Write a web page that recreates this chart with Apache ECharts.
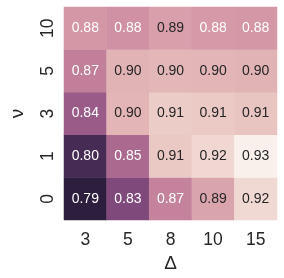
<!DOCTYPE html>
<html>
<head>
<meta charset="utf-8">
<script src="https://cdn.jsdelivr.net/npm/echarts@6/dist/echarts.min.js"></script>
<style>html,body{margin:0;padding:0;background:#fff;}#c{width:284px;height:278px;}</style>
</head>
<body>
<div id="c"></div>
<script>
const xCats = ['3', '5', '8', '10', '15'];
const yCats = ['0', '1', '3', '5', '10'];
const row0 = [0.789, 0.828, 0.868, 0.888, 0.917];
const row1 = [0.801, 0.852, 0.908, 0.916, 0.930];
const row3 = [0.842, 0.897, 0.910, 0.909, 0.906];
const row5 = [0.866, 0.896, 0.898, 0.897, 0.896];
const row10 = [0.881, 0.877, 0.886, 0.882, 0.881];
const rows = [row0, row1, row3, row5, row10];
const vMin = 0.789, vMax = 0.930;

function cube(x) {
  const start = 0, rot = 0.4, hue = 0.8;
  const a = hue * x * (1 - x) / 2;
  const phi = 2 * Math.PI * (start / 3 + rot * x);
  const f = (p0, p1) => Math.min(1, Math.max(0, x + a * (p0 * Math.cos(phi) + p1 * Math.sin(phi))));
  return [f(-0.14861, 1.78277), f(-0.29227, -0.90649), f(1.97294, 0)];
}
function toHex(c) { return '#' + c.map(v => Math.round(v * 255).toString(16).padStart(2, '0')).join(''); }
const light = 0.95, dark = 0.15;
const stops = [];
for (let i = 0; i < 64; i++) { const t = i / 63; stops.push(toHex(cube(dark + (light - dark) * t))); }
function lum(c) {
  const l = c.map(v => v <= 0.03928 ? v / 12.92 : Math.pow((v + 0.055) / 1.055, 2.4));
  return 0.2126 * l[0] + 0.7152 * l[1] + 0.0722 * l[2];
}
const data = [];
rows.forEach((r, yi) => r.forEach((v, xi) => {
  const t = (v - vMin) / (vMax - vMin);
  const col = cube(dark + (light - dark) * t);
  data.push({ value: [xi, yi, v], label: { color: lum(col) > 0.408 ? '#262626' : '#ffffff' } });
}));

const chart = echarts.init(document.getElementById('c'));
const font = 'Liberation Sans, Arial, sans-serif';
chart.setOption({
  animation: false,
  grid: { left: 54, right: 7, top: 7, bottom: 54 },
  xAxis: {
    type: 'category', data: xCats,
    axisLine: { show: false }, axisTick: { show: false }, splitLine: { show: false },
    axisLabel: { fontSize: 17.5, color: '#262626', fontFamily: font, margin: 11 },
    name: 'Δ', nameLocation: 'middle', nameGap: 30,
    nameTextStyle: { fontSize: 19, color: '#262626', fontFamily: font }
  },
  yAxis: {
    type: 'category', data: yCats,
    axisLine: { show: false }, axisTick: { show: false }, splitLine: { show: false },
    axisLabel: { fontSize: 17.5, color: '#262626', fontFamily: font, rotate: 90, margin: 7 },
    name: 'ν', nameLocation: 'middle', nameGap: 37, nameRotate: 90,
    nameTextStyle: { fontSize: 19, color: '#262626', fontFamily: font }
  },
  visualMap: {
    show: false, type: 'continuous', dimension: 2, min: vMin, max: vMax,
    inRange: { color: stops }
  },
  series: [{
    type: 'heatmap', data: data,
    label: {
      show: true, fontSize: 14, fontFamily: font,
      formatter: p => p.value[2].toFixed(2)
    },
    itemStyle: { borderWidth: 0 }
  }]
});
</script>
</body>
</html>
